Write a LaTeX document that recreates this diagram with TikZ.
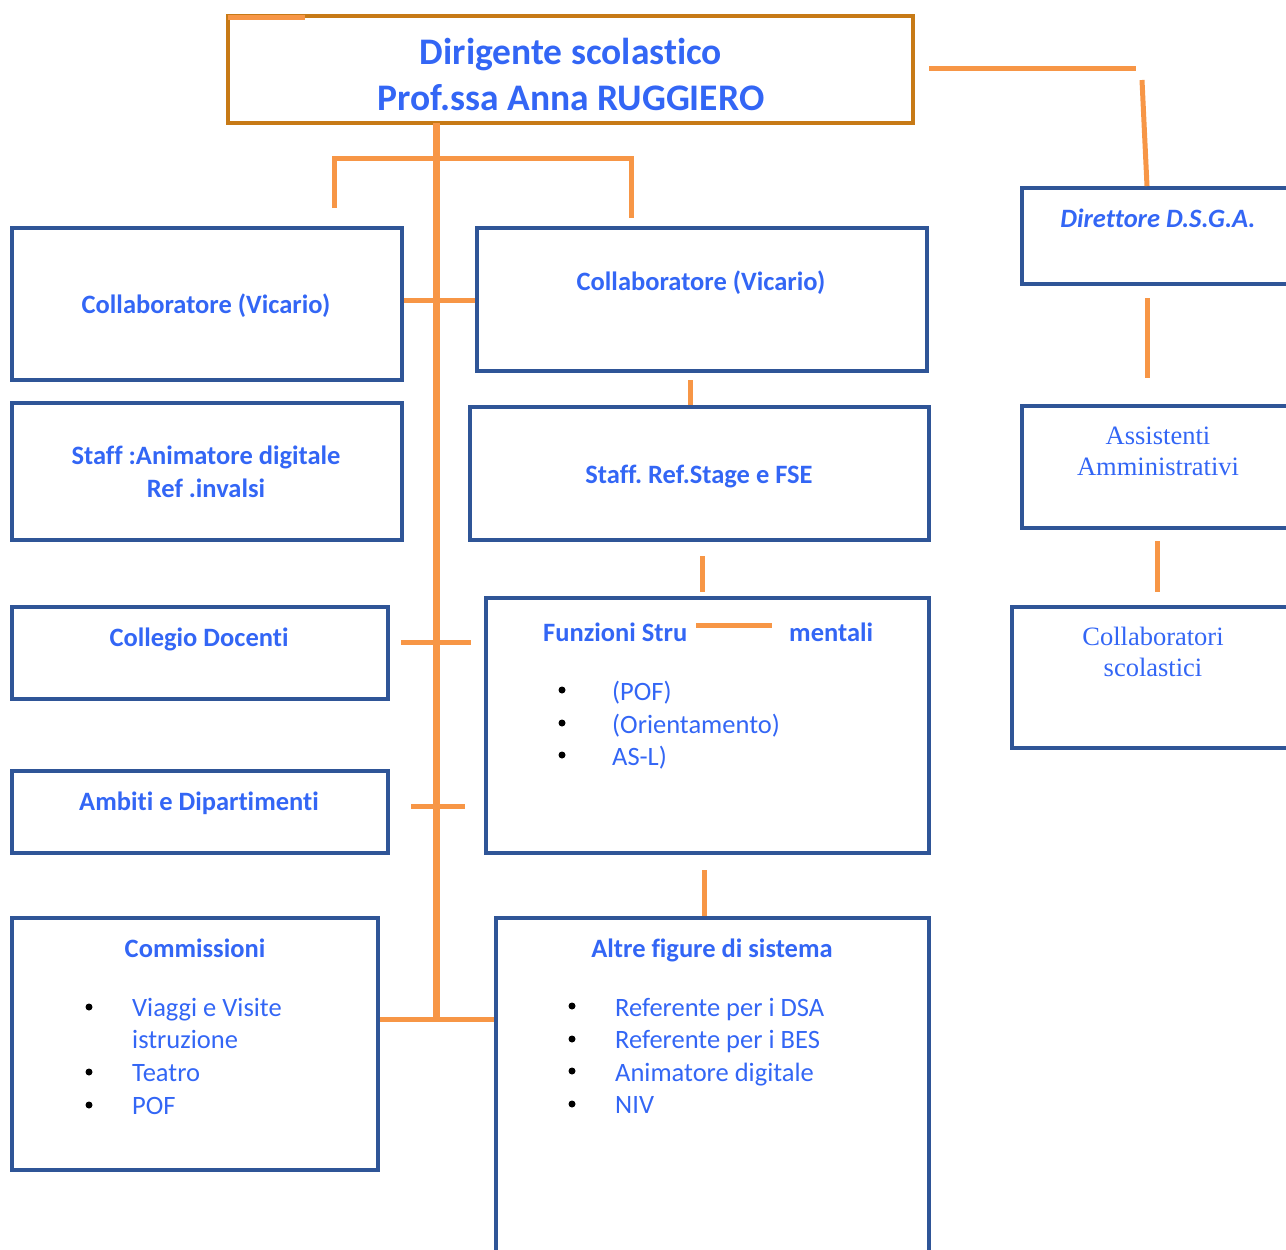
\documentclass[tikz,border=0pt]{standalone}
\usepackage{fontspec}
\setmainfont{Carlito}[Ligatures=NoCommon]
\newfontfamily\timesf{Liberation Serif}
\definecolor{txtblue}{HTML}{3366F5}
\definecolor{boxblue}{HTML}{2F5597}
\definecolor{topbrown}{HTML}{C77A16}
\definecolor{lineor}{HTML}{F79646}
\tikzset{
  box/.style={draw=boxblue, line width=4pt, inner sep=0pt},
  topbox/.style={draw=topbrown, line width=4pt, inner sep=0pt},
  ol/.style={draw=lineor, line width=5pt},
  trunk/.style={draw=lineor, line width=7pt},
  lbl/.style={text=txtblue, font=\frenchspacing\fontsize{26.5}{30}\selectfont\bfseries, anchor=base, inner sep=0pt},
  ttl/.style={text=txtblue, font=\frenchspacing\fontsize{37.5}{42}\selectfont\bfseries, anchor=base, inner sep=0pt},
  itm/.style={text=txtblue, font=\fontsize{26.5}{30}\selectfont, anchor=base west, inner sep=0pt},
  tms/.style={text=txtblue, font=\timesf\fontsize{26.5}{30}\selectfont, anchor=base, inner sep=0pt},
  bul/.style={fill=black, circle, inner sep=0pt, minimum size=7pt},
}
\begin{document}
\begin{tikzpicture}[x=1pt,y=-1pt]
\useasboundingbox (0,0) rectangle (1286,1250);
\clip (0,0) rectangle (1286,1250);
% boxes
\node[topbox, minimum width=685pt, minimum height=107pt] (top) at (570.5,69.5) {};
\node[box, minimum width=390pt, minimum height=152pt] (b1) at (207,304) {};
\node[box, minimum width=390pt, minimum height=137pt] (b2) at (207,471.5) {};
\node[box, minimum width=376pt, minimum height=92pt] (b3) at (200,653) {};
\node[box, minimum width=376pt, minimum height=82pt] (b4) at (200,812) {};
\node[box, minimum width=366pt, minimum height=252pt] (b5) at (195,1044) {};
\node[box, minimum width=450pt, minimum height=143pt] (m1) at (702,299.5) {};
\node[box, minimum width=459pt, minimum height=133pt] (m2) at (699.5,473.5) {};
\node[box, minimum width=443pt, minimum height=255pt] (m3) at (707.5,725.5) {};
\node[box, minimum width=433pt, minimum height=372pt] (m4) at (712.5,1104) {};
\node[box, minimum width=300pt, minimum height=96pt] (r1) at (1172,236) {};
\node[box, minimum width=300pt, minimum height=122pt] (r2) at (1172,467) {};
\node[box, minimum width=310pt, minimum height=141pt] (r3) at (1167,677.5) {};
% texts
\node[ttl] (t1) at (571,64) {Dirigente scolastico};
\node[ttl] (t2) at (571,110) {Prof.ssa Anna RUGGIERO};
\node[lbl] (tb1) at (206,313) {Collaboratore (Vicario)};
\node[lbl] (tb2a) at (206,464) {Staff :Animatore digitale};
\node[lbl] (tb2b) at (206,497) {Ref .invalsi};
\node[lbl] (tb3) at (199,646) {Collegio Docenti};
\node[lbl] (tb4) at (199,810) {Ambiti e Dipartimenti};
\node[lbl] (tb5) at (195,957) {Commissioni};
\node[itm] (i51) at (132,1016) {Viaggi e Visite};
\node[itm] (i52) at (132,1048) {istruzione};
\node[itm] (i53) at (132,1081) {Teatro};
\node[itm] (i54) at (132,1114) {POF};
\node[bul] at (89,1007) {};
\node[bul] at (89,1072) {};
\node[bul] at (89,1105) {};
\node[lbl] (tm1) at (701,290) {Collaboratore (Vicario)};
\node[lbl] (tm2) at (699,483) {Staff. Ref.Stage e FSE};
\node[lbl, anchor=base west] (tm3a) at (543,641) {Funzioni Stru};
\node[lbl, anchor=base west] (tm3b) at (789,641) {mentali};
\node[itm] (i31) at (612,700) {(POF)};
\node[itm] (i32) at (612,733) {(Orientamento)};
\node[itm] (i33) at (612,765) {AS-L)};
\node[bul] at (562,690) {};
\node[bul] at (562,723) {};
\node[bul] at (562,755) {};
\node[lbl] (tm4) at (712,957) {Altre figure di sistema};
\node[itm] (i41) at (615,1016) {Referente per i DSA};
\node[itm] (i42) at (615,1048) {Referente per i BES};
\node[itm] (i43) at (615,1081) {Animatore digitale};
\node[itm] (i44) at (615,1113) {NIV};
\node[bul] at (572,1006) {};
\node[bul] at (572,1039) {};
\node[bul] at (572,1071) {};
\node[bul] at (572,1104) {};
\node[lbl, font=\frenchspacing\fontsize{26.5}{30}\selectfont\bfseries\itshape] (tr1) at (1158,227) {Direttore D.S.G.A.};
\node[tms] (tr2a) at (1158,444) {Assistenti};
\node[tms] (tr2b) at (1158,475) {Amministrativi};
\node[tms] (tr3a) at (1153,645) {Collaboratori};
\node[tms] (tr3b) at (1153,676) {scolastici};
% coordinates for connectors
\coordinate (tk0) at (436,123);
\coordinate (tk1) at (436,1020);
\coordinate (brL) at (334,208);
\coordinate (brLt) at (334,158);
\coordinate (brRt) at (631,158);
\coordinate (brR) at (631,218);
% connectors
\draw[trunk] (tk0) -- (tk1);
\draw[ol] (brL) -- (brLt) -- (brRt) -- (brR);
\draw[ol] (b1.east |- 0,300) -- (m1.west |- 0,300);
\draw[ol] (401,642) coordinate (c3a) -- (471,642) coordinate (c3b);
\draw[ol] (411,806) coordinate (c4a) -- (465,806) coordinate (c4b);
\draw[ol] (b5.east |- 0,1019) -- (m4.west |- 0,1019);
\draw[ol] (690,380) coordinate (m12a) -- (m2.north -| 690,0);
\draw[ol] (702,556) coordinate (m23a) -- (702,592) coordinate (m23b);
\draw[ol] (704,870) coordinate (m34a) -- (m4.north -| 704,0);
\draw[ol] (696,625) coordinate (fs1) -- (772,625) coordinate (fs2);
\draw[ol] (228,17) coordinate (tl1) -- (305,17) coordinate (tl2);
\draw[ol] (929,68) coordinate (d1) -- (1136,68) coordinate (d2);
\draw[ol] (1142,80) coordinate (d3) -- (r1.north -| 1147,0);
\draw[ol] (1147,298) coordinate (d4) -- (1147,378) coordinate (d5);
\draw[ol] (1157,541) coordinate (d6) -- (1157,592) coordinate (d7);
\end{tikzpicture}
\end{document}
